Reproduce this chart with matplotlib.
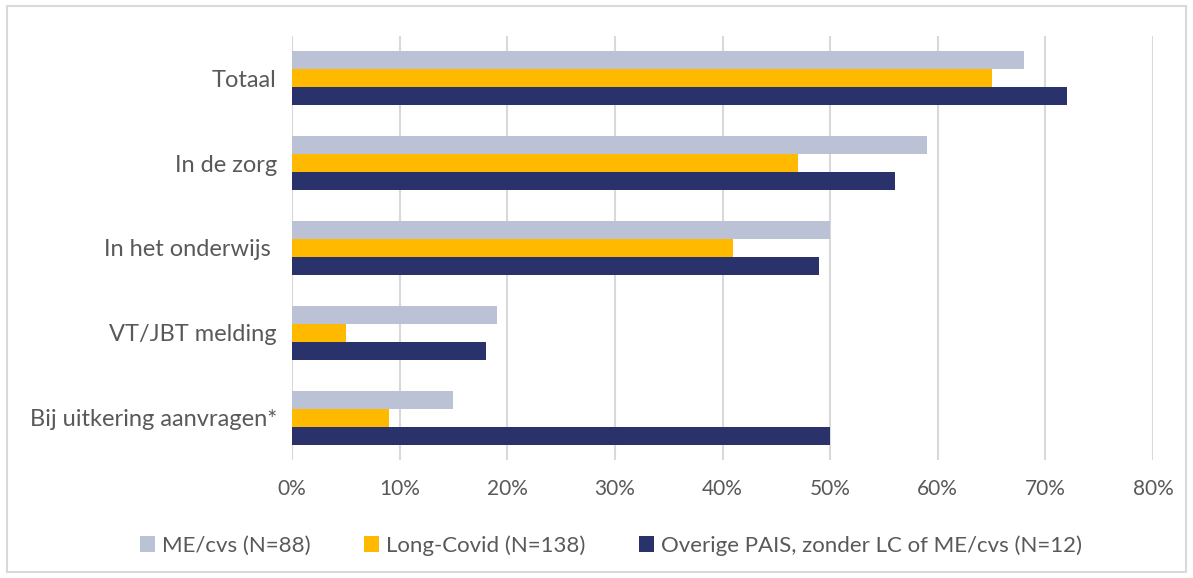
import numpy as np
from matplotlib import pyplot as plt
from matplotlib.patches import Rectangle
from matplotlib.ticker import FuncFormatter

categories = ["Totaal", "In de zorg", "In het onderwijs ", "VT/JBT melding", "Bij uitkering aanvragen*"]
me_cvs = [68, 59, 50, 19, 15]
long_covid = [65, 47, 41, 5, 9]
overige = [72, 56, 49, 18, 50]
series_names = ["ME/cvs (N=88)", "Long-Covid (N=138)", "Overige PAIS, zonder LC of ME/cvs (N=12)"]
colors = ["#BCC2D6", "#FFBA00", "#2A326B"]

plt.rcParams["font.family"] = ["Lato", "DejaVu Sans"]
text_color = "#595959"

fig = plt.figure(figsize=(11.93, 5.78), dpi=100)
ax = fig.add_axes([0.2448, 0.2042, 0.7217, 0.7335])

y = np.arange(len(categories))
h = 0.212
for i, (vals, name, c) in enumerate(zip([me_cvs, long_covid, overige], series_names, colors)):
    ax.barh(y + (i - 1) * h, vals, height=h, color=c, label=name, zorder=3)

ax.set_ylim(4.5, -0.5)
ax.set_xlim(0, 80)
ax.set_xticks(np.arange(0, 81, 10))
ax.xaxis.set_major_formatter(FuncFormatter(lambda v, p: f"{v:.0f}%"))
ax.set_yticks(y)
ax.set_yticklabels(categories)
ax.grid(axis="x", color="#D9D9D9", linewidth=1.5, zorder=0)
for s in ax.spines.values():
    s.set_visible(False)
ax.tick_params(length=0, colors=text_color)
ax.tick_params(axis="y", labelsize=17, pad=11)
ax.tick_params(axis="x", labelsize=15, pad=14)

fig.legend(loc="lower center", bbox_to_anchor=(0.512, 0.004), ncol=3, frameon=False,
           fontsize=16, handlelength=0.7, handleheight=0.7, handletextpad=0.3,
           columnspacing=2.4, labelcolor=text_color)

fig.patches.append(Rectangle((0.006, 0.01), 0.988, 0.98, transform=fig.transFigure,
                             fill=False, edgecolor="#D9D9D9", linewidth=1.5))

fig.savefig("out.png", dpi=100, facecolor="white")
